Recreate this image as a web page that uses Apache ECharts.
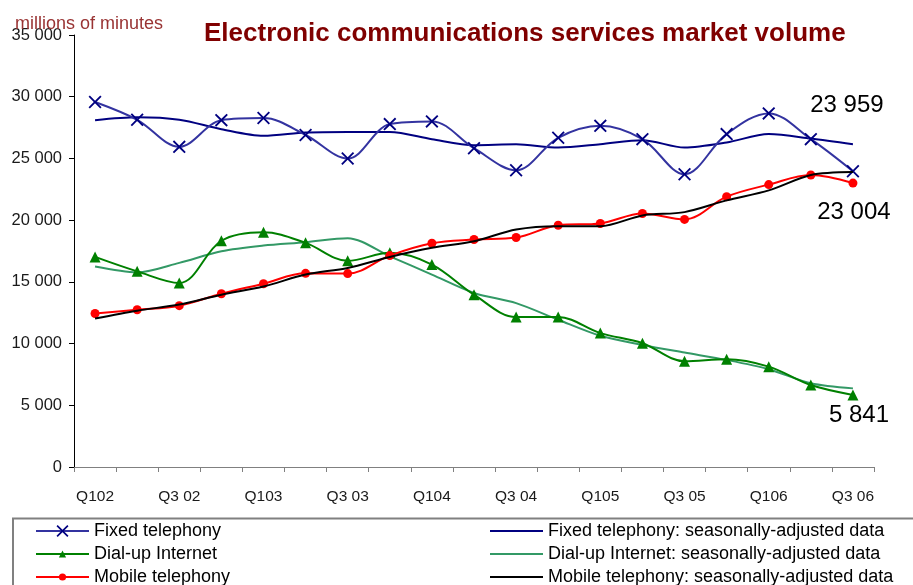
<!DOCTYPE html>
<html>
<head>
<meta charset="utf-8">
<title>Electronic communications services market volume</title>
<script src="https://cdn.jsdelivr.net/npm/echarts@6/dist/echarts.min.js"></script>
<style>
  html, body { margin: 0; padding: 0; background: #ffffff; }
  #chart { width: 913px; height: 585px; }
</style>
</head>
<body>
<div id="chart"></div>
<script>
// Quarterly volumes, millions of minutes
var quarters = ['Q102', 'Q2 02', 'Q3 02', 'Q4 02', 'Q103', 'Q2 03', 'Q3 03', 'Q4 03',
                'Q104', 'Q2 04', 'Q3 04', 'Q4 04', 'Q105', 'Q2 05', 'Q3 05', 'Q4 05',
                'Q106', 'Q2 06', 'Q3 06'];

var fixedTelephony   = [29570, 28130, 25940, 28100, 28270, 26900, 24990, 27780, 28000, 25830,
                        24040, 26670, 27640, 26560, 23720, 26970, 28650, 26560, 23959];
var fixedTelephonySA = [28100, 28330, 28130, 27370, 26830, 27100, 27150, 27150, 26560, 26070,
                        26150, 25880, 26150, 26480, 25880, 26290, 26970, 26610, 26150];
var dialUp           = [17020, 15850, 14910, 18330, 19020, 18160, 16700, 17350, 16400, 13960,
                        12150, 12150, 10850, 10030, 8570, 8730, 8130, 6640, 5841];
var dialUpSA         = [16240, 15770, 16540, 17480, 17940, 18210, 18540, 17070, 15590, 14100,
                        13280, 11930, 10630, 9890, 9270, 8670, 7920, 6780, 6370];
var mobile           = [12440, 12740, 13070, 14040, 14850, 15690, 15670, 17130, 18130, 18430,
                        18590, 19590, 19730, 20540, 20060, 21900, 22880, 23660, 23004];
var mobileSA         = [12030, 12660, 13170, 13960, 14630, 15590, 16130, 17020, 17760, 18290,
                        19240, 19510, 19510, 20380, 20650, 21600, 22410, 23660, 23900];

var yTicks = { min: 0, max: 35000, step: 5000 };

var seriesNames = {
  fixed: 'Fixed telephony',
  fixedSA: 'Fixed telephony: seasonally-adjusted data',
  dial: 'Dial-up Internet',
  dialSA: 'Dial-up Internet: seasonally-adjusted data',
  mob: 'Mobile telephony',
  mobSA: 'Mobile telephony: seasonally-adjusted data'
};

function spaced(v) {
  return String(v).replace(/\B(?=(\d{3})+(?!\d))/g, ' ');
}

var font = 'Liberation Sans, Arial, sans-serif';

// Attach a value label to the final quarter of a series
function withEndLabel(values, offset) {
  var last = values.length - 1;
  return values.map(function (v, i) {
    if (i !== last) return v;
    return {
      value: v,
      label: {
        show: true,
        position: 'inside',
        offset: offset,
        formatter: function (p) { return spaced(p.value); },
        color: '#000000',
        fontSize: 24,
        fontFamily: font
      }
    };
  });
}

var crossPath = 'path://M0,1L1,0L5,4L9,0L10,1L6,5L10,9L9,10L5,6L1,10L0,9L4,5Z';

// One legend block per entry so the two columns line up row by row
function legendEntry(name, left, top, iconHeight, plainLine) {
  return {
    left: left,
    top: top,
    padding: 0,
    itemWidth: 53,
    itemHeight: iconHeight,
    itemGap: 4,
    selectedMode: false,
    textStyle: { color: '#000000', fontSize: 18, fontFamily: font, lineHeight: 18 },
    data: [plainLine ? { name: name, icon: 'rect' } : name]
  };
}

var chart = echarts.init(document.getElementById('chart'), null, { renderer: 'canvas' });

chart.setOption({
  animation: false,
  backgroundColor: '#ffffff',
  title: [
    {
      text: 'Electronic communications services market volume',
      left: 199,
      top: 16,
      textStyle: { color: '#800000', fontSize: 26, fontWeight: 'bold', fontFamily: font }
    },
    {
      text: 'millions of minutes',
      left: 10,
      top: 10,
      textStyle: { color: '#993333', fontSize: 18, fontWeight: 'normal', fontFamily: font }
    }
  ],
  grid: { left: 74, right: 39, top: 35, bottom: 118, containLabel: false },
  xAxis: {
    type: 'category',
    data: quarters,
    boundaryGap: true,
    axisLine: { lineStyle: { color: '#808080', width: 1 } },
    axisTick: { show: true, interval: 0, length: 5, lineStyle: { color: '#808080' } },
    axisLabel: { interval: 1, margin: 22, color: '#1a1a1a', fontSize: 15.5, fontFamily: font },
    splitLine: { show: false }
  },
  yAxis: {
    type: 'value',
    min: yTicks.min,
    max: yTicks.max,
    interval: yTicks.step,
    axisLine: { show: true, lineStyle: { color: '#000000', width: 1 } },
    axisTick: { show: true, length: 5, lineStyle: { color: '#000000' } },
    axisLabel: {
      margin: 12, color: '#1a1a1a', fontSize: 16.5, fontFamily: font,
      formatter: function (v) { return spaced(v); }
    },
    splitLine: { show: false }
  },
  legend: [
    legendEntry(seriesNames.fixed, 35, 522, 15, false),
    legendEntry(seriesNames.dial, 35, 545, 9, false),
    legendEntry(seriesNames.mob, 35, 568, 9, false),
    legendEntry(seriesNames.fixedSA, 490, 522, 2, true),
    legendEntry(seriesNames.dialSA, 490, 545, 2, true),
    legendEntry(seriesNames.mobSA, 490, 568, 2, true)
  ],
  graphic: [
    {
      type: 'rect',
      shape: { x: 13, y: 518.5, width: 930, height: 90 },
      style: { fill: 'none', stroke: '#808080', lineWidth: 2 },
      silent: true,
      z: -1
    }
  ],
  series: [
    {
      name: seriesNames.fixedSA,
      type: 'line',
      data: fixedTelephonySA,
      smooth: 0.3,
      showSymbol: false,
      symbol: 'none',
      lineStyle: { color: '#000080', width: 2 },
      itemStyle: { color: '#000080' },
      z: 2
    },
    {
      name: seriesNames.fixed,
      type: 'line',
      data: withEndLabel(fixedTelephony, [-6, -66]),
      smooth: 0.35,
      symbol: crossPath,
      symbolSize: 13,
      lineStyle: { color: '#3333A0', width: 2 },
      itemStyle: { color: '#000080' },
      z: 3
    },
    {
      name: seriesNames.dialSA,
      type: 'line',
      data: dialUpSA,
      smooth: 0.3,
      showSymbol: false,
      symbol: 'none',
      lineStyle: { color: '#339966', width: 2 },
      itemStyle: { color: '#339966' },
      z: 2
    },
    {
      name: seriesNames.dial,
      type: 'line',
      data: withEndLabel(dialUp, [6, 20]),
      smooth: 0.35,
      symbol: 'triangle',
      symbolSize: 11,
      lineStyle: { color: '#008000', width: 2 },
      itemStyle: { color: '#008000' },
      z: 3
    },
    {
      name: seriesNames.mob,
      type: 'line',
      data: withEndLabel(mobile, [1, 29]),
      smooth: 0.35,
      symbol: 'circle',
      symbolSize: 9,
      lineStyle: { color: '#FF0000', width: 2 },
      itemStyle: { color: '#FF0000' },
      z: 3
    },
    {
      name: seriesNames.mobSA,
      type: 'line',
      data: mobileSA,
      smooth: 0.3,
      showSymbol: false,
      symbol: 'none',
      lineStyle: { color: '#000000', width: 2 },
      itemStyle: { color: '#000000' },
      z: 4
    }
  ]
});
</script>
</body>
</html>
